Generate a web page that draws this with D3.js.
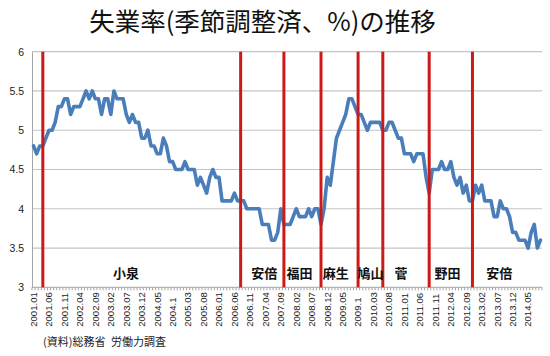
<!DOCTYPE html>
<html><head><meta charset="utf-8">
<script src="https://cdn.jsdelivr.net/npm/d3@7/dist/d3.min.js"></script>
<style>body{margin:0;background:#fff;} svg{display:block;}</style>
</head><body>
<svg id="chart" width="550" height="356"></svg>
<script>
// ---------- DATA ----------
const titleText = "失業率(季節調整済、%)の推移";
const sourceText = "(資料)総務省\u2002労働力調査";
const firstYear = 2001, firstMonth = 1;

// Seasonally adjusted unemployment rate (%), monthly 2001.01 – 2014.09
const unemployment = [
  4.8, 4.7, 4.8, 4.8, 4.9, 5.0, 5.0, 5.1, 5.3, 5.3, 5.4, 5.4, // 2001
  5.2, 5.3, 5.3, 5.3, 5.4, 5.5, 5.4, 5.5, 5.4, 5.4, 5.2, 5.4, // 2002
  5.4, 5.2, 5.5, 5.4, 5.4, 5.4, 5.2, 5.1, 5.2, 5.1, 5.1, 4.9, // 2003
  4.9, 5.0, 4.8, 4.8, 4.7, 4.7, 4.9, 4.8, 4.6, 4.6, 4.5, 4.5, // 2004
  4.5, 4.6, 4.5, 4.5, 4.5, 4.3, 4.4, 4.3, 4.2, 4.4, 4.5, 4.4, // 2005
  4.4, 4.1, 4.1, 4.1, 4.1, 4.2, 4.1, 4.1, 4.1, 4.0, 4.0, 4.0, // 2006
  4.0, 4.0, 3.8, 3.8, 3.8, 3.6, 3.6, 3.7, 4.0, 3.8, 3.8, 3.8, // 2007
  3.9, 4.0, 3.9, 3.9, 3.9, 4.0, 3.9, 4.0, 4.0, 3.8, 4.0, 4.4, // 2008
  4.3, 4.6, 4.9, 5.0, 5.1, 5.2, 5.4, 5.4, 5.3, 5.2, 5.2, 5.1, // 2009
  5.0, 5.1, 5.1, 5.1, 5.1, 5.0, 5.0, 5.1, 5.1, 5.0, 4.9, 4.9, // 2010
  4.7, 4.7, 4.7, 4.6, 4.7, 4.7, 4.7, 4.4, 4.2, 4.5, 4.5, 4.5, // 2011
  4.6, 4.5, 4.5, 4.6, 4.4, 4.3, 4.4, 4.2, 4.3, 4.1, 4.1, 4.3, // 2012
  4.2, 4.3, 4.1, 4.1, 4.1, 3.9, 3.9, 4.1, 4.0, 4.0, 3.9, 3.7, // 2013
  3.7, 3.6, 3.6, 3.6, 3.5, 3.7, 3.8, 3.5, 3.6                 // 2014
];

const yTicks = [3, 3.5, 4, 4.5, 5, 5.5, 6];
const xTickLabels = [
  "2001.01","2001.06","2001.11","2002.04","2002.09","2003.02","2003.07","2003.12",
  "2004.05","2004.1","2005.03","2005.08","2006.01","2006.06","2006.11","2007.04",
  "2007.09","2008.02","2008.07","2008.12","2009.05","2009.1","2010.03","2010.08",
  "2011.01","2011.06","2011.11","2012.04","2012.09","2013.02","2013.07","2013.12","2014.05"
];
// Prime ministers and the month where the divider is drawn
const cabinetNames  = ["小泉", "安倍", "福田", "麻生", "鳩山", "菅", "野田", "安倍"];
const cabinetStarts = [[2001,4],[2006,8],[2007,10],[2008,10],[2009,10],[2010,6],[2011,9],[2012,11]];

// ---------- HELPERS ----------
// Excel-style numeric month label: 2004.10 shows as "2004.1"
const fmtMonth = (yr, mo) => mo === 10 ? `${yr}.1` : `${yr}.${String(mo).padStart(2, "0")}`;
const categories = unemployment.map((_, i) => {
  const t = (firstMonth - 1) + i;
  return fmtMonth(firstYear + Math.floor(t / 12), (t % 12) + 1);
});
const series = categories.map((c, i) => ({ c, v: unemployment[i] }));

// ---------- LAYOUT ----------
const svg = d3.select("#chart");
const plot = { left: 32, right: 542, top: 51.7, bottom: 287.3 };
const x = d3.scaleBand().domain(categories).range([plot.left, plot.right]).padding(0);
const y = d3.scaleLinear().domain([3, 6]).range([plot.bottom, plot.top]);
const cx = c => x(c) + x.bandwidth() / 2;
const JP = "'Noto Sans CJK JP','Noto Sans',sans-serif";
const NUM = "'Liberation Sans',Arial,sans-serif";

svg.append("rect").attr("width", 550).attr("height", 356).attr("fill", "#fff");

// title
svg.append("text").attr("x", 262.5).attr("y", 30.5).attr("text-anchor", "middle")
  .attr("font-family", JP).attr("font-size", 25.5).attr("fill", "#111").text(titleText);

// gridlines
svg.append("g").selectAll("line").data(yTicks.filter(d => d > 3)).join("line")
  .attr("x1", plot.left).attr("x2", plot.right)
  .attr("y1", d => y(d)).attr("y2", d => y(d))
  .attr("stroke", "#c4c4c4").attr("stroke-width", 1.2);

// y axis
const yAxis = svg.append("g").attr("transform", `translate(${plot.left},0)`)
  .call(d3.axisLeft(y).tickValues(yTicks).tickSize(0).tickPadding(8).tickFormat(d => String(d)));
yAxis.select(".domain").attr("stroke", "#a6a6a6").attr("stroke-width", 1);
yAxis.selectAll("text").attr("font-family", NUM).attr("font-size", 10.5).attr("fill", "#222");

// x axis line + minor ticks at category boundaries
const xg = svg.append("g").attr("transform", `translate(0,${plot.bottom})`);
xg.append("line").attr("x1", plot.left).attr("x2", plot.right).attr("stroke", "#a6a6a6").attr("stroke-width", 1);
xg.selectAll("line.tk").data(categories.concat([null])).join("line").attr("class", "tk")
  .attr("x1", d => d === null ? plot.right : x(d)).attr("x2", d => d === null ? plot.right : x(d))
  .attr("y1", 0).attr("y2", 3).attr("stroke", "#a6a6a6").attr("stroke-width", 1);
xg.selectAll("text").data(xTickLabels).join("text")
  .attr("transform", d => `translate(${cx(d)},0) rotate(-90)`)
  .attr("x", -39.5).attr("y", 0).attr("dy", "0.35em")
  .attr("text-anchor", "start")
  .attr("font-family", NUM).attr("font-size", 9.6).attr("fill", "#222").text(d => d);

// series line
const line = d3.line().x(d => cx(d.c)).y(d => y(d.v));
svg.append("path").datum(series).attr("d", line)
  .attr("fill", "none").attr("stroke", "#4a7ebb").attr("stroke-width", 3.6)
  .attr("stroke-linejoin", "round").attr("stroke-linecap", "round");

// cabinet dividers
svg.append("g").selectAll("line").data(cabinetStarts).join("line")
  .attr("x1", d => cx(fmtMonth(d[0], d[1]))).attr("x2", d => cx(fmtMonth(d[0], d[1])))
  .attr("y1", plot.top).attr("y2", plot.bottom)
  .attr("stroke", "#cc1a1a").attr("stroke-width", 3);

// cabinet labels
const labelX = [126, 264.3, 299.5, 335.8, 370.5, 401, 447.5, 499.3];
svg.append("g").selectAll("text").data(cabinetNames).join("text")
  .attr("x", (d, i) => labelX[i]).attr("y", 277.5).attr("text-anchor", "middle")
  .attr("font-family", JP).attr("font-weight", "bold").attr("font-size", 13)
  .attr("fill", "#111").text(d => d);

// source
svg.append("text").attr("x", 43).attr("y", 346)
  .attr("font-family", JP).attr("font-size", 11).attr("fill", "#222").text(sourceText);
</script>
</body></html>
